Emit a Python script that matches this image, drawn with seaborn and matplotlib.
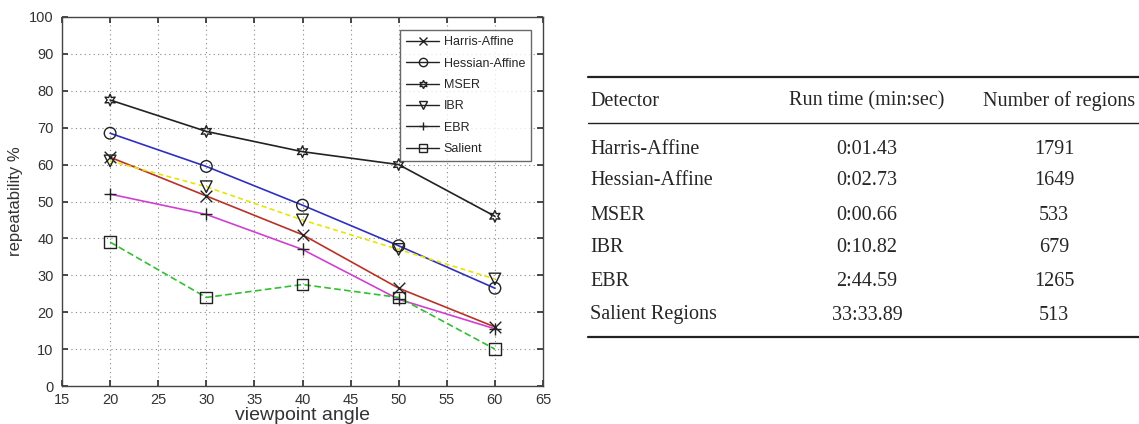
import matplotlib
matplotlib.use("Agg")
import matplotlib.pyplot as plt
from matplotlib.lines import Line2D
import seaborn as sns
import pandas as pd

angles = [20, 30, 40, 50, 60]
harris_affine = [62, 51.5, 41, 26.5, 16]
hessian_affine = [68.5, 59.5, 49, 38, 26.5]
mser = [77.5, 69, 63.5, 60, 46]
ibr = [61, 54, 45, 37, 29]
ebr = [52, 46.5, 37, 23.5, 15.5]
salient = [39, 24, 27.5, 24, 10]

series_names = ["Harris-Affine", "Hessian-Affine", "MSER", "IBR", "EBR", "Salient"]
series_values = [harris_affine, hessian_affine, mser, ibr, ebr, salient]

table_header = ["Detector", "Run time (min:sec)", "Number of regions"]
detectors = ["Harris-Affine", "Hessian-Affine", "MSER", "IBR", "EBR", "Salient Regions"]
run_times = ["0:01.43", "0:02.73", "0:00.66", "0:10.82", "2:44.59", "33:33.89"]
num_regions = ["1791", "1649", "533", "679", "1265", "513"]

styles = {
    "Harris-Affine": dict(color="#b83228", marker="x", ls="-"),
    "Hessian-Affine": dict(color="#3030c0", marker="o", ls="-"),
    "MSER": dict(color="#222222", marker=(6, 1, 0), ls="-"),
    "IBR": dict(color="#e6e600", marker="v", ls=(0, (3, 2))),
    "EBR": dict(color="#d040d0", marker="+", ls="-"),
    "Salient": dict(color="#30c030", marker="s", ls=(0, (4, 2))),
}

sns.set_theme(style="white")
plt.rcParams["font.family"] = ["Liberation Sans", "DejaVu Sans"]

fig = plt.figure(figsize=(11.39, 4.24), dpi=100)
ax = fig.add_axes([62 / 1139, 38 / 424, 481 / 1139, 369 / 424])

for name, vals in zip(series_names, series_values):
    st = styles[name]
    df = pd.DataFrame({"angle": angles, "rep": vals})
    sns.lineplot(data=df, x="angle", y="rep", ax=ax, color=st["color"],
                 linestyle=st["ls"], linewidth=1.2, legend=False)
    sns.scatterplot(data=df, x="angle", y="rep", ax=ax, marker=st["marker"],
                    s=70, facecolor="none" if st["marker"] not in ("x", "+") else "#222222",
                    edgecolor="#222222", linewidth=1.0, legend=False, zorder=5)

ax.set_xlim(15, 65)
ax.set_ylim(0, 100)
ax.set_xticks(range(15, 66, 5))
ax.set_yticks(range(0, 101, 10))
ax.grid(True, linestyle=(0, (1, 3)), color="#888888", linewidth=0.8)
ax.tick_params(direction="in", length=4, labelsize=10.5, colors="#333333",
               bottom=True, left=True, top=True, right=True)
ax.tick_params(axis="x", pad=5)
ax.tick_params(axis="y", pad=6)
for sp in ax.spines.values():
    sp.set_color("#444444")
    sp.set_linewidth(1.0)
ax.set_xlabel("viewpoint angle", fontsize=14, color="#333333", labelpad=0)
ax.set_ylabel("repeatability %", fontsize=12, color="#333333", labelpad=4)

handles = []
for name in series_names:
    st = styles[name]
    handles.append(Line2D([0], [0], color="#222222", lw=1.0, marker=st["marker"],
                          markersize=6, markerfacecolor="none", markeredgecolor="#222222"))
leg = ax.legend(handles, series_names, loc="upper left",
                bbox_to_anchor=((400 - 62) / 481, (386 - 30) / 369),
                fontsize=9, frameon=True, fancybox=False, edgecolor="#444444",
                handlelength=2.6, handletextpad=0.4, labelspacing=0.75, borderpad=0.5,
                borderaxespad=0)
leg.get_frame().set_linewidth(1.0)

# table on the right
serif = ["Liberation Serif", "DejaVu Serif"]
x0, x1 = 588 / 1139, 1.0
def fy(py):
    return 1 - py / 424
for py, lw in [(77, 1.6), (123, 1.0), (337, 1.6)]:
    fig.add_artist(Line2D([x0, x1], [fy(py), fy(py)], color="#222222", lw=lw))
fs = 14.5
fig.text(590 / 1139, fy(101), table_header[0], fontsize=fs, family=serif, va="center", ha="left")
fig.text(867 / 1139, fy(101), table_header[1], fontsize=fs, family=serif, va="center", ha="center")
fig.text(1059 / 1139, fy(101), table_header[2], fontsize=fs, family=serif, va="center", ha="center")
row_y = [149, 181, 215, 248, 282, 315]
for py, d, t, n in zip(row_y, detectors, run_times, num_regions):
    fig.text(590 / 1139, fy(py), d, fontsize=fs, family=serif, va="center", ha="left")
    fig.text(867 / 1139, fy(py), t, fontsize=fs, family=serif, va="center", ha="center")
    fig.text(1054 / 1139, fy(py), n, fontsize=fs, family=serif, va="center", ha="center")

fig.savefig("out.png", dpi=100)
